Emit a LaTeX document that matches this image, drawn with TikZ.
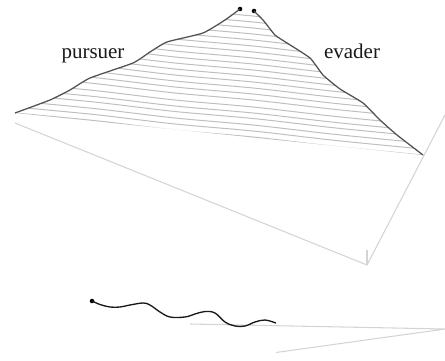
\documentclass[tikz,border=0pt]{standalone}
\usepackage{fontspec}
\setmainfont{Liberation Serif}
\tikzset{
  ridge/.style={draw=black!68,line width=0.95pt,line join=round},
  hatch/.style={draw=black!25,line width=0.75pt},
  frameline/.style={draw=black!17,line width=0.8pt},
  wave/.style={draw=black!90,line width=1pt},
  endpoint/.style={circle,fill=black,inner sep=0pt,minimum size=3.4pt},
  lab/.style={font=\fontsize{15.75}{18}\selectfont,inner sep=0pt,text=black!90,anchor=base}
}
\begin{document}
\begin{tikzpicture}[x=0.75pt,y=-0.75pt]
\useasboundingbox (0,0) rectangle (445,360);
% hatching, clipped to the region beneath the two ridges
\begin{scope}
\clip plot[smooth,tension=0.3] coordinates {(15,113)(50,100)(70,90)(90,78)(133,63)(150,52)(167,42)(203,33)(225,20)(240,9)} -- (254,11) -- plot[smooth,tension=0.3] coordinates {(254,11)(263,20)(275,35)(287,43)(310,58)(323,75)(340,89)(363,103)(380,120)(397,135)(423,155)} -- cycle;
\foreach \d in {0,6,12,18.5,24,30,37,43,49,55,61,67,73,79,85,91,97,103,109,115,121}{
  \draw[hatch] plot[smooth,tension=0.5] coordinates {(15,113-\d)(95,{121.2-\d-0.6})(175,{129.5-\d+0.5})(255,{137.7-\d-0.5})(335,{146-\d+0.4})(423,155-\d)};
}
\end{scope}
% frame
\coordinate (fa) at (15,123);
\coordinate (fb) at (367,265);
\coordinate (fc) at (445,115);
\coordinate (ft) at (367,250);
\draw[frameline] (fa) -- (fb) -- (fc);
\draw[frameline] (fb) -- (ft);
% ridges
\node[endpoint] (p) at (240,9) {};
\node[endpoint] (e) at (254,11) {};
\draw[ridge] plot[smooth,tension=0.3] coordinates {(15,113)(50,100)(70,90)(90,78)(133,63)(150,52)(167,42)(203,33)(225,20)(240,9)};
\draw[ridge] plot[smooth,tension=0.3] coordinates {(254,11)(263,20)(275,35)(287,43)(310,58)(323,75)(340,89)(363,103)(380,120)(397,135)(423,155)};
\node[lab] (pl) at (93,59) {pursuer};
\node[lab] (el) at (352,59) {evader};
% lower figure
\coordinate (ga) at (190,324);
\coordinate (gb) at (445,329);
\coordinate (gc) at (276,352.5);
\draw[frameline] (ga) -- (gb) -- (gc);
\node[endpoint] (w) at (92,301) {};
\draw[wave] plot[smooth,tension=0.6] coordinates {(92,301)(100,304.5)(110,307)(120,307)(130,305)(143,303)(150,305)(160,312)(170,317)(185,317)(195,314)(205,311.5)(215,313)(225,322)(235,326)(245,326)(255,322)(265,320)(276,323)};
\end{tikzpicture}
\end{document}
